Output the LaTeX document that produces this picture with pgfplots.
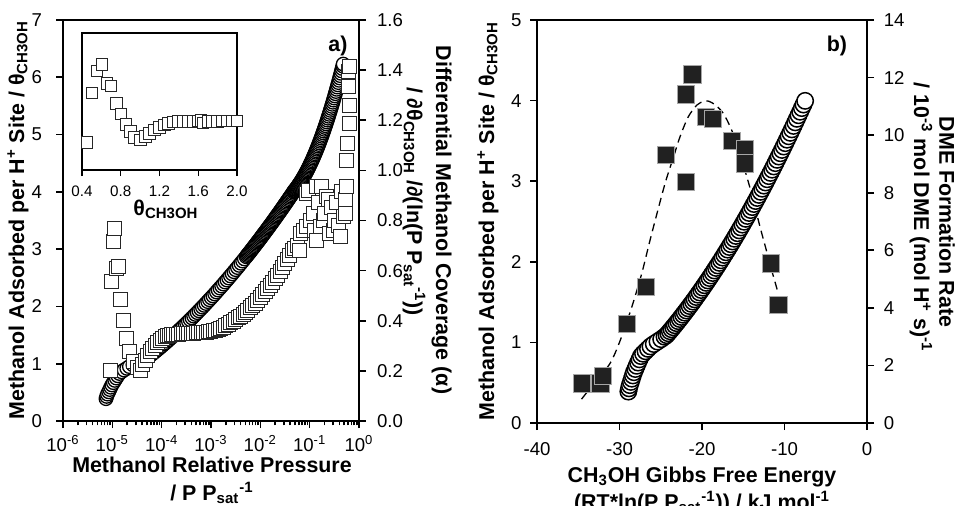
\documentclass[border=0pt]{standalone}
\usepackage{fontspec}
\setmainfont{Liberation Sans}
\usepackage{pgfplots}
\pgfplotsset{compat=1.18}
\newcommand{\tickfont}{\fontsize{9.3}{11}\selectfont}
\newcommand{\insetfont}{\fontsize{7.6}{9}\selectfont}
\newcommand{\labfont}{\fontsize{10.7}{12.8}\selectfont\bfseries}
\pgfplotsset{
  panel/.style={scale only axis, clip=false, anchor=south west,
    axis line style={line width=1.1pt},
    tick style={line width=0.8pt, black},
    tick align=outside, major tick length=3.5pt, minor tick length=2.2pt,
    tick label style={font=\tickfont}},
}
\begin{document}
\begin{tikzpicture}
\path[use as bounding box] (0,0) rectangle (478.5pt,252.5pt);
% ================= LEFT PANEL =================
\begin{axis}[panel, at={(31.5pt,42pt)}, width=148pt, height=200.5pt,
  xmin=-6, xmax=0, ymin=0, ymax=7,
  xtick={-6,-5,-4,-3,-2,-1,0},
  xticklabels={10\textsuperscript{-6},10\textsuperscript{-5},10\textsuperscript{-4},10\textsuperscript{-3},10\textsuperscript{-2},10\textsuperscript{-1},10\textsuperscript{0}},
  minor xtick={-5.699,-5.523,-5.398,-5.301,-5.222,-5.155,-5.097,-5.046,
    -4.699,-4.523,-4.398,-4.301,-4.222,-4.155,-4.097,-4.046,
    -3.699,-3.523,-3.398,-3.301,-3.222,-3.155,-3.097,-3.046,
    -2.699,-2.523,-2.398,-2.301,-2.222,-2.155,-2.097,-2.046,
    -1.699,-1.523,-1.398,-1.301,-1.222,-1.155,-1.097,-1.046,
    -0.699,-0.523,-0.398,-0.301,-0.222,-0.155,-0.097,-0.046},
  ytick={0,1,2,3,4,5,6,7}, yticklabels={0,1,2,3,4,5,6,7},
  xtick pos=left, ytick pos=left,
  yticklabel style={xshift=-3.5pt}]
\addplot[only marks, mark=*, mark size=3.4pt,
  mark options={fill=white, draw=black, line width=0.65pt}] table {
-5.129 0.39
-5.115 0.43
-5.098 0.47
-5.074 0.51
-5.053 0.55
-5.032 0.59
-5.009 0.63
-4.979 0.67
-4.950 0.71
-4.920 0.75
-4.890 0.79
-4.858 0.83
-4.814 0.86
-4.761 0.89
-4.707 0.92
-4.654 0.95
-4.583 0.98
-4.504 1.01
-4.424 1.04
-4.353 1.07
-4.309 1.09
-4.273 1.114
-4.238 1.139
-4.202 1.163
-4.167 1.188
-4.131 1.213
-4.096 1.239
-4.060 1.264
-4.025 1.290
-3.989 1.316
-3.954 1.343
-3.918 1.369
-3.883 1.396
-3.848 1.423
-3.812 1.451
-3.777 1.478
-3.741 1.506
-3.706 1.534
-3.670 1.563
-3.635 1.592
-3.599 1.620
-3.564 1.650
-3.528 1.679
-3.493 1.709
-3.457 1.739
-3.422 1.769
-3.386 1.799
-3.351 1.830
-3.316 1.861
-3.280 1.892
-3.245 1.924
-3.209 1.955
-3.174 1.987
-3.138 2.019
-3.103 2.052
-3.067 2.085
-3.032 2.118
-2.996 2.151
-2.961 2.184
-2.925 2.218
-2.890 2.252
-2.855 2.286
-2.819 2.321
-2.784 2.355
-2.748 2.390
-2.713 2.426
-2.677 2.461
-2.642 2.497
-2.606 2.533
-2.571 2.569
-2.535 2.606
-2.500 2.642
-2.464 2.679
-2.429 2.717
-2.394 2.754
-2.358 2.792
-2.323 2.830
-2.287 2.868
-2.2695 2.8875
-2.252 2.907
-2.234 2.926
-2.216 2.945
-2.1985 2.9645
-2.181 2.984
-2.163 3.004
-2.145 3.024
-2.1275 3.0435
-2.110 3.063
-2.092 3.083
-2.074 3.103
-2.0565 3.123
-2.039 3.143
-2.021 3.163
-2.003 3.183
-1.9855 3.2035
-1.968 3.224
-1.9505 3.2445
-1.933 3.265
-1.915 3.2855
-1.897 3.306
-1.8795 3.3265
-1.862 3.347
-1.844 3.3675
-1.826 3.388
-1.8085 3.409
-1.791 3.430
-1.773 3.451
-1.755 3.472
-1.7375 3.4935
-1.720 3.515
-1.702 3.536
-1.684 3.557
-1.6665 3.5785
-1.649 3.600
-1.631 3.6215
-1.613 3.643
-1.5955 3.6645
-1.578 3.686
-1.560 3.708
-1.542 3.730
-1.5245 3.752
-1.507 3.774
-1.4895 3.796
-1.472 3.818
-1.454 3.840
-1.436 3.862
-1.4185 3.8845
-1.401 3.907
-1.383 3.929
-1.365 3.951
-1.3475 3.974
-1.330 3.997
-1.3175 4.013
-1.305 4.026
-1.2925 4.039
-1.280 4.053
-1.2675 4.067
-1.255 4.082
-1.2425 4.097
-1.230 4.112
-1.2175 4.128
-1.205 4.144
-1.1925 4.160
-1.180 4.177
-1.1675 4.194
-1.155 4.212
-1.1425 4.230
-1.130 4.248
-1.1175 4.267
-1.105 4.286
-1.0925 4.305
-1.080 4.325
-1.0675 4.345
-1.055 4.365
-1.0425 4.386
-1.030 4.408
-1.0175 4.429
-1.005 4.451
-0.9925 4.474
-0.980 4.497
-0.9675 4.520
-0.955 4.543
-0.9425 4.567
-0.930 4.591
-0.9175 4.616
-0.905 4.641
-0.8925 4.666
-0.880 4.692
-0.8675 4.718
-0.855 4.745
-0.8425 4.772
-0.830 4.799
-0.8175 4.827
-0.805 4.855
-0.7925 4.883
-0.780 4.912
-0.7675 4.941
-0.755 4.970
-0.7425 5.000
-0.730 5.031
-0.7175 5.061
-0.705 5.092
-0.6925 5.124
-0.680 5.155
-0.6675 5.187
-0.655 5.220
-0.6425 5.253
-0.630 5.286
-0.6175 5.320
-0.605 5.354
-0.5925 5.388
-0.580 5.423
-0.5675 5.458
-0.555 5.493
-0.5425 5.529
-0.530 5.565
-0.5175 5.602
-0.505 5.639
-0.4925 5.676
-0.480 5.714
-0.4675 5.752
-0.455 5.791
-0.4425 5.830
-0.430 5.869
-0.4175 5.908
-0.405 5.948
-0.3925 5.989
-0.380 6.029
-0.3675 6.070
-0.355 6.112
-0.3425 6.154
-0.330 6.196
-0.320 6.230
};
\end{axis}
\begin{axis}[panel, at={(31.5pt,42pt)}, width=148pt, height=200.5pt,
  xmin=-6, xmax=0, ymin=0, ymax=1.6,
  axis x line=none, axis y line*=right,
  ytick={0,0.2,0.4,0.6,0.8,1.0,1.2,1.4,1.6},
  yticklabels={0.0,0.2,0.4,0.6,0.8,1.0,1.2,1.4,1.6},
  yticklabel style={xshift=2pt}]
\addplot[only marks, mark=square*, mark size=3.5pt,
  mark options={fill=white, draw=black!85, line width=0.5pt}] table {
-5.047 0.201
-5.013 0.556
-4.980 0.716
-4.946 0.769
-4.912 0.609
-4.879 0.616
-4.830 0.483
-4.777 0.403
-4.709 0.330
-4.642 0.277
-4.575 0.236
-4.500 0.215
-4.439 0.203
-4.380 0.225
-4.330 0.243
-4.280 0.262
-4.230 0.277
-4.180 0.290
-4.130 0.303
-4.080 0.313
-4.030 0.323
-3.980 0.330
-3.930 0.336
-3.880 0.340
-3.840 0.343
-3.80 0.344
-3.75 0.345
-3.70 0.346
-3.65 0.347
-3.60 0.348
-3.55 0.349
-3.50 0.350
-3.45 0.350
-3.40 0.351
-3.35 0.351
-3.30 0.352
-3.25 0.352
-3.20 0.353
-3.15 0.354
-3.10 0.355
-3.05 0.356
-3.00 0.358
-2.95 0.360
-2.90 0.362
-2.85 0.366
-2.80 0.370
-2.75 0.375
-2.70 0.380
-2.65 0.386
-2.60 0.392
-2.55 0.398
-2.50 0.404
-2.45 0.411
-2.40 0.418
-2.35 0.426
-2.30 0.434
-2.25 0.442
-2.20 0.451
-2.15 0.460
-2.10 0.470
-2.05 0.481
-2.00 0.492
-1.95 0.503
-1.90 0.515
-1.85 0.527
-1.80 0.540
-1.75 0.553
-1.70 0.567
-1.65 0.582
-1.60 0.597
-1.55 0.612
-1.50 0.628
-1.45 0.645
-1.40 0.662
-1.35 0.680
-1.30 0.690
-1.25 0.700
-1.20 0.682
-1.18 0.750
-1.12 0.760
-1.06 0.775
-1.06 0.908
-1.03 0.921
-0.98 0.800
-0.93 0.828
-0.90 0.760
-0.86 0.722
-0.86 0.935
-0.82 0.870
-0.79 0.775
-0.76 0.935
-0.72 0.800
-0.69 0.828
-0.65 0.895
-0.62 0.882
-0.59 0.749
-0.55 0.850
-0.52 0.760
-0.49 0.802
-0.45 0.870
-0.42 0.780
-0.385 0.735
-0.35 0.915
-0.32 0.815
-0.28 0.828
-0.28 0.882
-0.26 0.935
-0.25 1.041
-0.24 1.108
-0.20 1.187
-0.20 1.260
-0.21 1.333
-0.21 1.393
-0.196 1.413
};
\end{axis}
% inset
\begin{axis}[scale only axis, clip=false, anchor=south west,
  at={(41pt,167.5pt)}, width=77.5pt, height=68.5pt,
  xmin=0.4, xmax=2.0, ymin=0, ymax=1,
  xtick={0.4,0.8,1.2,1.6,2.0}, xticklabels={0.4,0.8,1.2,1.6,2.0},
  ytick=\empty, xtick pos=left,
  axis line style={line width=0.8pt},
  tick style={line width=0.7pt, black},
  tick align=outside, major tick length=3pt,
  tick label style={font=\insetfont},
  xticklabel style={yshift=-1.5pt},
  axis background/.style={fill=white}]
\addplot[only marks, mark=square*, mark size=2.9pt,
  mark options={fill=white, draw=black!85, line width=0.5pt}] table {
0.452 0.199
0.503 0.563
0.555 0.723
0.606 0.769
0.658 0.631
0.699 0.612
0.754 0.485
0.803 0.408
0.854 0.333
0.899 0.279
0.940 0.238
1.002 0.218
1.054 0.243
1.098 0.267
1.147 0.291
1.198 0.311
1.250 0.328
1.295 0.340
1.346 0.350
1.398 0.352
1.450 0.354
1.500 0.355
1.550 0.356
1.600 0.357
1.630 0.362
1.650 0.342
1.700 0.355
1.750 0.356
1.800 0.356
1.850 0.357
1.900 0.357
1.950 0.357
2.000 0.358
};
\end{axis}
% ================= RIGHT PANEL =================
\begin{axis}[panel, at={(268.5pt,41pt)}, width=165pt, height=201.5pt,
  xmin=-40, xmax=0, ymin=0, ymax=14,
  axis x line=none, axis y line*=right,
  ytick={0,2,4,6,8,10,12,14}, yticklabels={0,2,4,6,8,10,12,14},
  yticklabel style={xshift=1.4pt}]
\addplot[black, line width=0.65pt, dash pattern=on 4pt off 2.6pt, smooth] table {
-34.6 0.83
-33.0 1.41
-31.15 2.07
-29.9 2.88
-28.5 4.04
-27.3 5.20
-26.3 6.35
-25.3 7.45
-24.4 8.40
-23.5 9.20
-22.67 9.94
-21.66 10.64
-20.6 11.05
-19.8 11.17
-19.2 11.18
-18.4 11.05
-17.4 10.75
-16.4 10.17
-15.5 9.45
-14.8 8.78
-14.0 7.98
-13.0 6.85
-12.2 6.00
-11.5 5.25
-10.75 4.50
};
\addplot[only marks, mark=square*, mark size=4.35pt,
  mark options={fill=black!87, draw=gray!70, line width=0.4pt}] table {
-34.55 1.38
-32.3 1.38
-32.04 1.63
-29.13 3.44
-26.79 4.73
-24.36 9.31
-21.98 8.38
-21.98 11.42
-21.17 12.11
-19.52 10.64
-18.7 10.56
-16.4 9.80
-14.8 9.50
-14.8 9.02
-11.64 5.55
-10.75 4.10
};
\end{axis}
\begin{axis}[panel, at={(268.5pt,41pt)}, width=165pt, height=201.5pt,
  xmin=-40, xmax=0, ymin=0, ymax=5,
  xtick={-40,-30,-20,-10,0}, xticklabels={-40,-30,-20,-10,0},
  ytick={0,1,2,3,4,5}, yticklabels={0,1,2,3,4,5},
  xtick pos=left, ytick pos=left,
  xticklabel style={yshift=-2.7pt}, yticklabel style={xshift=-0.7pt}]
\addplot[only marks, mark=*, mark size=4.1pt,
  mark options={fill=white, draw=black, line width=0.75pt}] table {
-28.93 0.39
-28.85 0.43
-28.75 0.47
-28.62 0.51
-28.50 0.55
-28.38 0.59
-28.25 0.63
-28.08 0.67
-27.92 0.71
-27.75 0.75
-27.58 0.79
-27.40 0.83
-27.15 0.86
-26.85 0.89
-26.55 0.92
-26.25 0.95
-25.85 0.98
-25.40 1.01
-24.95 1.04
-24.55 1.07
-24.3 1.090
-24.1 1.114
-23.9 1.139
-23.7 1.163
-23.5 1.188
-23.3 1.213
-23.1 1.239
-22.9 1.264
-22.7 1.290
-22.5 1.316
-22.3 1.343
-22.1 1.369
-21.9 1.396
-21.7 1.423
-21.5 1.451
-21.3 1.478
-21.1 1.506
-20.9 1.534
-20.7 1.563
-20.5 1.592
-20.3 1.620
-20.1 1.650
-19.9 1.679
-19.7 1.709
-19.5 1.739
-19.3 1.769
-19.1 1.799
-18.9 1.830
-18.7 1.861
-18.5 1.892
-18.3 1.924
-18.1 1.955
-17.9 1.987
-17.7 2.019
-17.5 2.052
-17.3 2.085
-17.1 2.118
-16.9 2.151
-16.7 2.184
-16.5 2.218
-16.3 2.252
-16.1 2.286
-15.9 2.321
-15.7 2.355
-15.5 2.390
-15.3 2.426
-15.1 2.461
-14.9 2.497
-14.7 2.533
-14.5 2.569
-14.3 2.606
-14.1 2.642
-13.9 2.679
-13.7 2.717
-13.5 2.754
-13.3 2.792
-13.1 2.830
-12.9 2.868
-12.7 2.907
-12.5 2.945
-12.3 2.984
-12.1 3.024
-11.9 3.063
-11.7 3.103
-11.5 3.143
-11.3 3.183
-11.1 3.224
-10.9 3.265
-10.7 3.306
-10.5 3.347
-10.3 3.388
-10.1 3.430
-9.9 3.472
-9.7 3.515
-9.5 3.557
-9.3 3.600
-9.1 3.643
-8.9 3.686
-8.7 3.730
-8.5 3.774
-8.3 3.818
-8.1 3.862
-7.9 3.907
-7.7 3.951
-7.5 3.997
};
\end{axis}
% ================= LABELS =================
\node[rotate=90, font=\labfont] at (9pt,142.5pt) {Methanol Adsorbed per H\textsuperscript{+} Site / θ\textsubscript{CH3OH}};
\node[rotate=-90, font=\labfont] at (220.75pt,142.5pt) {Differential Methanol Coverage (α)};
\node[rotate=-90, font=\labfont] at (207pt,151.75pt) {/ ∂θ\textsubscript{CH3OH} /∂(ln(P P\textsubscript{sat}\textsuperscript{-1}))};
\node[font=\labfont] at (169pt,229.5pt) {a)};
\node[font=\labfont, anchor=base] at (83pt,145pt) {θ\textsubscript{CH3OH}};
\node[font=\labfont, anchor=base] at (106pt,16.5pt) {Methanol Relative Pressure};
\node[font=\labfont, anchor=base] at (106pt,2.5pt) {/ P P\textsubscript{sat}\textsuperscript{-1}};
\node[rotate=90, font=\labfont] at (244pt,142pt) {Methanol Adsorbed per H\textsuperscript{+} Site / θ\textsubscript{CH3OH}};
\node[rotate=-90, font=\labfont] at (473.5pt,141.5pt) {DME Formation Rate};
\node[rotate=-90, font=\labfont] at (460.5pt,143.75pt) {/ 10\textsuperscript{-3} mol DME (mol H\textsuperscript{+} s)\textsuperscript{-1}};
\node[font=\labfont] at (418.5pt,229.5pt) {b)};
\node[font=\labfont, anchor=base] at (351pt,11.5pt) {CH\textsubscript{3}OH Gibbs Free Energy};
\node[font=\labfont, anchor=base] at (351pt,-2pt) {(RT*ln(P P\textsubscript{sat}\textsuperscript{-1})) / kJ mol\textsuperscript{-1}};
\end{tikzpicture}
\end{document}
